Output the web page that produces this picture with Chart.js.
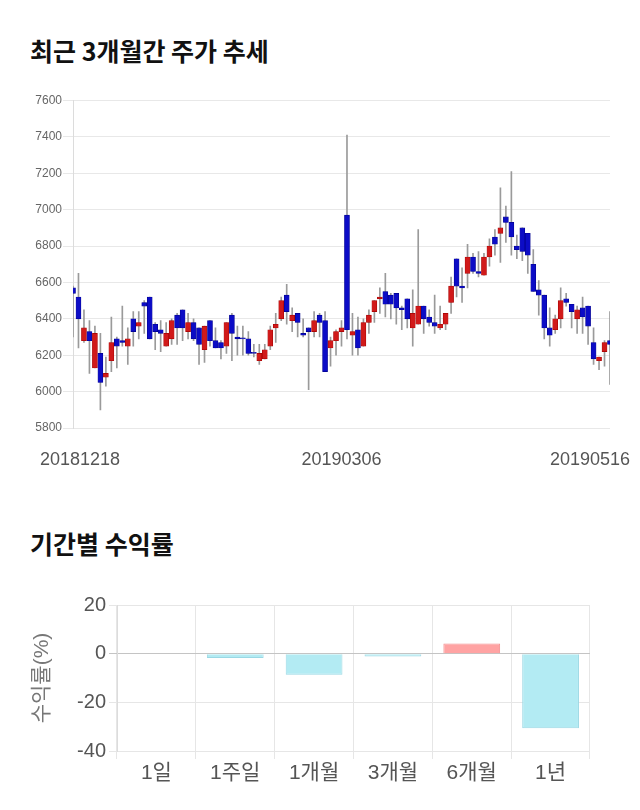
<!DOCTYPE html>
<html>
<head>
<meta charset="utf-8">
<script src="https://cdn.jsdelivr.net/npm/chart.js@4.4.1/dist/chart.umd.min.js"></script>
<style>
    body { margin: 0; width: 640px; height: 810px; background: #fff; position: relative; overflow: hidden; }
    .title {
        position: absolute; left: 30px;
        font-family: 'Noto Sans CJK KR', sans-serif; font-weight: bold;
        font-size: 25px; line-height: 26px; color: #111;
    }
    .box { position: absolute; left: 0; width: 640px; }
</style>
</head>
<body>
<div class="title" style="top:37px">최근 3개월간 주가 추세</div>
<div class="box" style="top:80px;height:400px"><canvas id="price-chart"></canvas></div>
<div class="title" style="top:530px">기간별 수익률</div>
<div class="box" style="top:580px;height:230px"><canvas id="return-chart"></canvas></div>
<script>
// ---- price data ----
const tradeDates = [
    '20181218', '20181219', '20181220', '20181221', '20181224', '20181226', '20181227', '20181228',
    '20190102', '20190103', '20190104', '20190107', '20190108', '20190109', '20190110', '20190111',
    '20190114', '20190115', '20190116', '20190117', '20190118', '20190121', '20190122', '20190123',
    '20190124', '20190125', '20190128', '20190129', '20190130', '20190131',
    '20190201', '20190207', '20190208', '20190211', '20190212', '20190213', '20190214', '20190215',
    '20190218', '20190219', '20190220', '20190221', '20190222', '20190225', '20190226', '20190227', '20190228',
    '20190304', '20190305', '20190306', '20190307', '20190308', '20190311', '20190312', '20190313',
    '20190314', '20190315', '20190318', '20190319', '20190320', '20190321', '20190322', '20190325',
    '20190326', '20190327', '20190328', '20190329',
    '20190401', '20190402', '20190403', '20190404', '20190405', '20190408', '20190409', '20190410',
    '20190411', '20190412', '20190415', '20190416', '20190417', '20190418', '20190419', '20190422',
    '20190423', '20190424', '20190425', '20190426', '20190429', '20190430',
    '20190502', '20190503', '20190507', '20190508', '20190509', '20190510', '20190513', '20190514',
    '20190515', '20190516'
];
const shownDates = ['20181218', '20190306', '20190516'];

const openPrices = [
    6570, 6520, 6280, 6330, 6130, 6210, 6080, 6170, 6290, 6280, 6250, 6400, 6360, 6490, 6520, 6370,
    6340, 6250, 6290, 6420, 6450, 6330, 6380, 6350, 6230, 6390, 6280, 6270, 6250, 6420, 6300, 6290,
    6290, 6210, 6170, 6180, 6250, 6350, 6400, 6530, 6390, 6430, 6320, 6350, 6330, 6420, 6390, 6240,
    6280, 6330, 6970, 6310, 6340, 6250, 6380, 6440, 6510, 6550, 6530, 6540, 6460, 6510, 6350, 6370,
    6470, 6410, 6380, 6350, 6370, 6490, 6730, 6580, 6650, 6740, 6660, 6640, 6740, 6850, 6870, 6960,
    6930, 6800, 6900, 6870, 6700, 6560, 6530, 6350, 6340, 6400, 6510, 6480, 6400, 6460, 6470, 6270,
    6170, 6220, 6280
];
const highPrices = [
    6580, 6650, 6450, 6390, 6360, 6320, 6190, 6410, 6300, 6470, 6350, 6440, 6440, 6500, 6520, 6380,
    6390, 6380, 6400, 6430, 6450, 6430, 6400, 6350, 6360, 6390, 6350, 6280, 6380, 6430, 6360, 6360,
    6330, 6260, 6260, 6260, 6360, 6430, 6520, 6590, 6460, 6430, 6400, 6350, 6440, 6430, 6440, 6300,
    6340, 6390, 7410, 6430, 6410, 6400, 6450, 6500, 6570, 6650, 6540, 6540, 6470, 6510, 6560, 6890,
    6470, 6450, 6530, 6470, 6430, 6630, 6730, 6680, 6810, 6760, 6770, 6760, 6840, 6890, 7120, 7020,
    7210, 6860, 6900, 6870, 6780, 6610, 6530, 6460, 6420, 6570, 6540, 6480, 6470, 6520, 6470, 6350,
    6190, 6280, 6440
];
const lowPrices = [
    6300, 6240, 6270, 6100, 6130, 5900, 6030, 6110, 6130, 6250, 6150, 6250, 6290, 6320, 6290, 6230,
    6220, 6250, 6260, 6260, 6280, 6290, 6280, 6150, 6160, 6250, 6240, 6180, 6210, 6170, 6200, 6200,
    6200, 6190, 6150, 6180, 6230, 6270, 6390, 6370, 6330, 6300, 6300, 6010, 6300, 6300, 6110, 6140,
    6200, 6250, 6290, 6200, 6200, 6250, 6320, 6380, 6430, 6410, 6400, 6370, 6340, 6350, 6250, 6370,
    6320, 6360, 6320, 6340, 6340, 6430, 6520, 6490, 6570, 6650, 6630, 6640, 6690, 6750, 6710, 6820,
    6750, 6730, 6720, 6650, 6550, 6420, 6290, 6250, 6320, 6350, 6470, 6350, 6320, 6320, 6260, 6150,
    6120, 6140, 6040
];
const closePrices = [
    6540, 6400, 6350, 6280, 6320, 6050, 6100, 6270, 6250, 6270, 6290, 6330, 6380, 6470, 6290, 6330,
    6320, 6320, 6390, 6350, 6350, 6380, 6290, 6260, 6360, 6280, 6240, 6240, 6380, 6320, 6290, 6290,
    6210, 6210, 6210, 6230, 6340, 6370, 6500, 6440, 6420, 6380, 6310, 6330, 6390, 6380, 6110, 6280,
    6330, 6350, 6340, 6330, 6240, 6380, 6420, 6500, 6520, 6480, 6480, 6460, 6450, 6400, 6430, 6470,
    6400, 6380, 6360, 6370, 6430, 6580, 6580, 6570, 6740, 6660, 6650, 6740, 6800, 6810, 6900, 6930,
    6850, 6780, 6770, 6750, 6550, 6530, 6350, 6310, 6400, 6500, 6490, 6440, 6450, 6410, 6360, 6180,
    6190, 6270, 6260
];
const priceTicks = { min: 5800, max: 7600, step: 200 };

// ---- period returns ----
const periods = ['1일', '1주일', '1개월', '3개월', '6개월', '1년'];
const periodReturns = [0, -1.8, -8.7, -1.2, 4.2, -30.7];
const returnTicks = { min: -40, max: 20, step: 20 };

Chart.defaults.font.family = "'Liberation Sans', 'Noto Sans CJK KR', sans-serif";
Chart.defaults.animation = false;

const UP = { fill: '#d11a1a', line: '#a30000' };
const DOWN = { fill: '#0c0cc6', line: '#00008c' };
const isUp = i => closePrices[i] > openPrices[i];

// draws only the three date labels, kept inside the picture
const dateLabels = {
    id: 'dateLabels',
    afterDraw(chart) {
        const ctx = chart.ctx;
        const xs = chart.scales.x;
        ctx.save();
        ctx.font = "18px 'Liberation Sans', sans-serif";
        ctx.fillStyle = '#555';
        ctx.textAlign = 'center';
        ctx.textBaseline = 'middle';
        shownDates.forEach(d => {
            const w = ctx.measureText(d).width;
            let x = xs.getPixelForValue(tradeDates.indexOf(d));
            x = Math.min(Math.max(x, 40 + w / 2), 630 - w / 2);
            ctx.fillText(d, x, chart.chartArea.bottom + 32);
        });
        ctx.restore();
    }
};

new Chart(document.getElementById('price-chart'), {
    type: 'bar',
    data: {
        labels: tradeDates,
        datasets: [
            {
                label: 'range',
                data: tradeDates.map((d, i) => [lowPrices[i], highPrices[i]]),
                backgroundColor: '#9a9a9a',
                barThickness: 1,
                grouped: false,
                order: 2,
                clip: 0
            },
            {
                label: 'body',
                data: tradeDates.map((d, i) => [openPrices[i], closePrices[i]]),
                backgroundColor: tradeDates.map((d, i) => isUp(i) ? UP.fill : DOWN.fill),
                borderColor: tradeDates.map((d, i) => isUp(i) ? UP.line : DOWN.line),
                borderWidth: 0.6,
                borderSkipped: false,
                barThickness: 5,
                minBarLength: 1,
                grouped: false,
                order: 1,
                clip: 0
            }
        ]
    },
    options: {
        responsive: true,
        maintainAspectRatio: false,
        layout: { padding: { top: 20.5, right: 30, bottom: 52, left: 0 } },
        plugins: { legend: { display: false }, tooltip: { enabled: false } },
        scales: {
            x: {
                type: 'category',
                offset: false,
                grid: { display: false },
                border: { display: false },
                ticks: { display: false },
                afterFit(s) { s.height = 0; }
            },
            y: {
                min: priceTicks.min,
                max: priceTicks.max,
                ticks: {
                    stepSize: priceTicks.step, color: '#666', font: { size: 12 }, padding: 1,
                    callback: v => String(v)
                },
                grid: { color: '#e8e8e8', tickLength: 10 },
                border: { color: '#dcdcdc' },
                afterFit(s) { s.width = 73; }
            }
        }
    },
    plugins: [dateLabels]
});

new Chart(document.getElementById('return-chart'), {
    type: 'bar',
    data: {
        labels: periods,
        datasets: [{
            label: '수익률',
            data: periodReturns,
            backgroundColor: periodReturns.map(v => v >= 0 ? '#ffa3a3' : '#b3ebf3'),
            borderColor: periodReturns.map(v => v >= 0 ? '#f39090' : '#9ad8e4'),
            borderWidth: 1
        }]
    },
    options: {
        responsive: true,
        maintainAspectRatio: false,
        layout: { padding: { top: 25, right: 50, bottom: 0, left: 28 } },
        plugins: { legend: { display: false }, tooltip: { enabled: false } },
        scales: {
            x: {
                grid: {
                    color: c => c.index >= periods.length ? 'rgba(0,0,0,0)' : '#e6e6e6'
                },
                border: { display: false },
                ticks: { color: '#555', font: { size: 21 }, padding: 2 },
                afterFit(s) { s.height = 59; }
            },
            y: {
                min: returnTicks.min,
                max: returnTicks.max,
                ticks: { stepSize: returnTicks.step, color: '#555', font: { size: 20 } },
                grid: { color: c => c.tick && c.tick.value === 0 ? '#c4c4c4' : '#e6e6e6' },
                border: { color: '#dcdcdc' },
                title: { display: true, text: '수익률(%)', color: '#777', font: { size: 21 }, padding: { top: 2, bottom: 2 } },
                afterFit(s) { s.width = 89; }
            }
        }
    }
});
</script>
</body>
</html>
